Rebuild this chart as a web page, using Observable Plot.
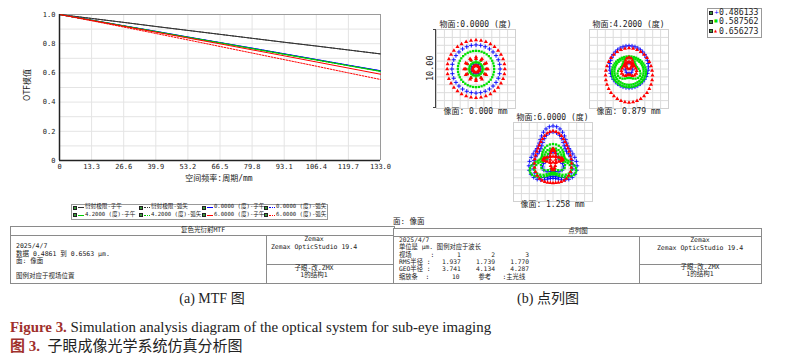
<!DOCTYPE html>
<html><head><meta charset="utf-8">
<script src="https://cdn.jsdelivr.net/npm/d3@7"></script>
<script src="https://cdn.jsdelivr.net/npm/@observablehq/plot@0.6"></script>
<style>
html,body{margin:0;padding:0;background:#fff;}
#root{position:relative;width:792px;height:362px;overflow:hidden;background:#fff;
  font-family:"DejaVu Sans Mono","Noto Sans CJK SC",monospace;color:#222;}
.a{position:absolute;white-space:pre;line-height:1;}
.box{position:absolute;border:1px solid #8a8a8a;background:#fff;box-sizing:border-box;}
.hl{position:absolute;height:0;border-top:1px solid #8a8a8a;}
.vl{position:absolute;width:0;border-left:1px solid #8a8a8a;}
svg{position:absolute;overflow:visible;}
</style></head><body><div id="root"></div>
<script>
// ---------------- MTF data ----------------
const freq = [0, 13.3, 26.6, 39.9, 53.2, 66.5, 79.8, 93.1, 106.4, 119.7, 133.0];
const mtfDiffT = [1.000,0.973,0.946,0.918,0.891,0.864,0.837,0.810,0.784,0.757,0.730];
const mtfDiffS = [1.000,0.973,0.946,0.918,0.891,0.864,0.837,0.810,0.784,0.757,0.730];
const mtf0T  = [1.000,0.962,0.923,0.885,0.846,0.808,0.770,0.731,0.692,0.653,0.615];
const mtf0S  = [1.000,0.961,0.922,0.884,0.845,0.807,0.769,0.730,0.691,0.652,0.614];
const mtf42T = [1.000,0.961,0.922,0.883,0.844,0.806,0.767,0.728,0.689,0.650,0.611];
const mtf42S = [1.000,0.961,0.921,0.882,0.843,0.805,0.766,0.727,0.688,0.649,0.610];
const mtf60T = [1.000,0.960,0.919,0.879,0.839,0.799,0.758,0.717,0.675,0.633,0.591];
const mtf60S = [1.000,0.957,0.914,0.870,0.826,0.781,0.736,0.691,0.646,0.600,0.555];
const mtfNames = ["衍射极限-子午","衍射极限-弧矢","0.0000 (度)-子午","0.0000 (度)-弧矢",
                  "4.2000 (度)-子午","4.2000 (度)-弧矢","6.0000 (度)-子午","6.0000 (度)-弧矢"];
const mtfColors = ["#333333","#333333","#0000ff","#0000ff","#00cc00","#00cc00","#ff0000","#ff0000"];
const mtfDashed = [false,true,false,true,false,true,false,true];
const mtfYTicks = [0,0.2,0.4,0.6,0.8,1.0];
const mtfYGrid = [0.1,0.2,0.3,0.4,0.5,0.6,0.7,0.8,0.9];

// ---------------- Spot diagram data (ray rings) ----------------
// [wavelength index, cx, cy, rx, ry, points, trefoil]  (µm)
const spotWaves = ["0.486133","0.587562","0.656273"];
const spotColors = ["#0000ff","#00e000","#ff0000"];
const spotSymbols = ["plus","square","triangle"];
const spot0Rings = [
  [0,0,0,3.05,3.05,32,0],[0,0,0,0.62,0.62,12,0],
  [1,0,0,2.3,2.3,40,0],[1,0,0,1.2,1.2,12,0],[1,0,0,0.85,0.85,24,0],
  [2,0,0,3.65,3.65,36,0],[2,0,0,1.5,1.5,12,0],[2,0,0,1.3,1.3,12,0],[2,0,0,0.42,0.42,14,0]
];
const spot42Rings = [
  [0,0,0.27,2.45,2.67,40,0],[0,0,0.1,0.5,0.7,10,0],
  [1,0,-0.35,2.15,1.95,44,0],[1,0,-0.3,1.85,1.7,40,0],[1,0,-0.1,1.3,1.3,30,0.22],
  [2,0,-0.8,2.97,3.44,36,0],[2,0,0.1,0.85,1.1,24,0.25],[2,0,0.45,0.35,0.45,10,0]
];
const spot60Rings = [
  [0,0,0.59,2.76,3.31,44,0.2],[0,0,0.45,2.3,2.8,38,0.2],[0,0,-0.2,1.2,1.2,20,0.2],
  [1,0,-0.21,2.49,1.91,52,0.3],[1,0,-0.25,2.0,1.55,42,0.3],[1,0,0.0,1.3,1.2,24,0.3],
  [2,0,0.36,2.3,3.28,40,0.08],[2,0,0.32,1.25,0.35,20,0],[2,0,0.32,0.35,1.35,20,0]
];
const spotPanels = [
  {title:"物面:0.0000 (度)", foot:"像面: 0.000 mm", rings:spot0Rings, left:436, top:29},
  {title:"物面:4.2000 (度)", foot:"像面: 0.879 mm", rings:spot42Rings, left:589, top:29},
  {title:"物面:6.0000 (度)", foot:"像面: 1.258 mm", rings:spot60Rings, left:513, top:122}
];
const spotGrid = [-4,-3,-2,-1,0,1,2,3,4];

// ---------------- Text blocks ----------------
const mtfTableTitle = "复色光衍射MTF";
const mtfTableLines = ["2025/4/7","数据 0.4861 到 0.6563 µm.","面: 像面","","图例对应于视场位置"];
const spotTableTitle = "点列图";
const spotTableLines = ["2025/4/7","单位是 µm. 图例对应于波长",
  "视场     :      1        2        3",
  "RMS半径 :   1.937    1.739    1.770",
  "GEO半径 :   3.741    4.134    4.287",
  "缩放条  :      10     参考   :主光线"];

const root = document.getElementById("root");
function T(x, y, s, size, o = {}) {
  const d = document.createElement("div");
  d.className = "a";
  d.textContent = s;
  d.style.fontSize = size + "px";
  if (o.family) d.style.fontFamily = o.family;
  if (o.color) d.style.color = o.color;
  if (o.center) { d.style.left = (x - 200) + "px"; d.style.width = "400px"; d.style.textAlign = "center"; }
  else d.style.left = x + "px";
  d.style.top = (y - size * 0.55) + "px";
  if (o.rotate) { d.style.transform = "rotate(-90deg)"; }
  if (o.z) d.style.zIndex = o.z;
  root.appendChild(d);
  return d;
}
function el(cls, css) { const d = document.createElement("div"); d.className = cls; Object.assign(d.style, css); root.appendChild(d); return d; }

// ---------------- MTF plot ----------------
const mtfRows = [mtfDiffT,mtfDiffS,mtf0T,mtf0S,mtf42T,mtf42S,mtf60T,mtf60S];
const lineMarks = mtfRows.map((vals, i) =>
  Plot.line(freq.map((f, j) => ({f, v: vals[j]})), {x:"f", y:"v", stroke: mtfColors[i], strokeWidth: 1,
    strokeDasharray: mtfDashed[i] ? "1.6,1.4" : null}));
const mtf = Plot.plot({
  width: 400, height: 195, marginLeft: 59, marginRight: 20, marginTop: 14, marginBottom: 35,
  x: {domain: [0, 133]}, y: {domain: [0, 1]},
  style: {fontFamily: "DejaVu Sans Mono, monospace", fontSize: "7px", color: "#222", background: "transparent"},
  marks: [
    Plot.gridX(freq, {stroke: "#e4e4e4", strokeOpacity: 1}),
    Plot.gridY(mtfYGrid, {stroke: "#e4e4e4", strokeOpacity: 1}),
    Plot.ruleX([133], {stroke: "#9a9a9a"}),
    Plot.ruleY([1], {stroke: "#9a9a9a"}),
    ...lineMarks,
    Plot.ruleX([0], {stroke: "#222", strokeWidth: 1.5}),
    Plot.ruleY([0], {stroke: "#222", strokeWidth: 1.5}),
    Plot.axisX(freq, {tickSize: 0, tickPadding: 4, label: null, tickFormat: d => d === 0 ? "0" : d.toFixed(1)}),
    Plot.axisY(mtfYTicks, {tickSize: 0, tickPadding: 4, label: null, tickFormat: d => d === 0 ? "0" : d.toFixed(1)})
  ]
});
mtf.style.left = "0px"; mtf.style.top = "0px";
root.appendChild(mtf);
T(28, 85, "OTF模值", 8, {center: true, rotate: true, family: "DejaVu Sans,Noto Sans CJK SC"});
T(219, 179, "空间频率:周期/mm", 8, {center: true});

// MTF legend
el("box", {left: "71px", top: "204px", width: "257px", height: "16px", border: "1px solid #999"});
const colX = [73, 139, 202, 264], rowY = [207.5, 215];
mtfNames.forEach((name, i) => {
  const x = colX[i % 4], y = rowY[Math.floor(i / 4)];
  el("a", {left: x + "px", top: (y - 2) + "px", width: "4px", height: "4px", background: "#3c9a3c", border: "1px solid #222", boxSizing: "border-box"});
  el("a", {left: (x + 5) + "px", top: (y - 0.5) + "px", width: "6px", height: "0px",
    borderTop: "1px " + (mtfDashed[i] ? "dotted " : "solid ") + mtfColors[i]});
  T(x + 12, y, name, 5.6);
});

// MTF info table
el("box", {left: "10px", top: "226px", width: "385px", height: "58px"});
el("hl", {left: "10px", top: "235px", width: "385px"});
el("vl", {left: "266px", top: "235px", height: "48px"});
el("hl", {left: "266px", top: "264px", width: "129px"});
T(203, 230.5, mtfTableTitle, 6.5, {center: true});
[246.5, 254.5, 261.5, 269, 276.5].forEach((y, i) => { if (mtfTableLines[i]) T(16, y, mtfTableLines[i], 6.5); });
T(314, 239.5, "Zemax", 6.5, {center: true});
T(314, 247.5, "Zemax OpticStudio 19.4", 6.5, {center: true});
T(314, 268.5, "子眼-改.ZMX", 6.5, {center: true});
T(314, 275.5, "1的结构1", 6.5, {center: true});

// ---------------- Spot diagrams ----------------
function ringPoints(rings) {
  const pts = [];
  for (const [w, cx, cy, rx, ry, n, e] of rings) {
    for (let k = 0; k < n; k++) {
      const t = 2 * Math.PI * k / n;
      const r = 1 + e * Math.cos(3 * t);
      pts.push({w, x: cx + rx * r * Math.sin(t), y: cy + ry * r * Math.cos(t)});
    }
  }
  return pts;
}
spotPanels.forEach(panel => {
  const pts = ringPoints(panel.rings);
  const dots = [0, 1, 2].map(w => {
    const data = pts.filter(d => d.w === w);
    return w === 0
      ? Plot.dot(data, {x: "x", y: "y", symbol: spotSymbols[w], stroke: spotColors[w], r: 1.5, strokeWidth: 0.9})
      : Plot.dot(data, {x: "x", y: "y", symbol: spotSymbols[w], fill: spotColors[w], r: w === 1 ? 1.3 : 1.5});
  });
  const p = Plot.plot({
    width: 79, height: 79, margin: 0,
    x: {domain: [-5, 5], axis: null}, y: {domain: [-5, 5], axis: null},
    style: {background: "transparent"},
    marks: [
      Plot.gridX(spotGrid, {stroke: "#dcdcdc", strokeOpacity: 1}),
      Plot.gridY(spotGrid, {stroke: "#dcdcdc", strokeOpacity: 1}),
      Plot.frame({stroke: "#d0d0d0"}),
      ...dots
    ]
  });
  p.style.left = panel.left + "px"; p.style.top = panel.top + "px";
  root.appendChild(p);
  T(panel.left + 39.5, panel.top - 3.5, panel.title, 8, {center: true});
  T(panel.left + 39.5, panel.top + 83.5, panel.foot, 8, {center: true});
});
// scale bar
el("a", {left: "435px", top: "29px", width: "0px", height: "79px", borderLeft: "1.5px solid #444"});
el("a", {left: "433px", top: "29px", width: "3px", height: "0px", borderTop: "1.5px solid #444"});
el("a", {left: "433px", top: "107px", width: "3px", height: "0px", borderTop: "1.5px solid #444"});
T(430, 69, "10.00", 8.5, {center: true, rotate: true});

// spot legend
el("box", {left: "707px", top: "8px", width: "55px", height: "30px", border: "1px solid #999"});
spotWaves.forEach((w, i) => {
  const y = 12.7 + i * 9.3;
  el("a", {left: "709px", top: (y - 2) + "px", width: "4px", height: "4px", background: "#3c9a3c", border: "1px solid #222", boxSizing: "border-box"});
  T(714, y - 0.5, i === 0 ? "+" : i === 1 ? "■" : "▲", i === 0 ? 6 : 4, {color: spotColors[i], family: "DejaVu Sans"});
  T(719, y, w, 8.2);
});

// spot table
T(393, 222.5, "面: 像面", 7.5);
el("box", {left: "393px", top: "228px", width: "369px", height: "56px", zIndex: 1});
el("hl", {left: "393px", top: "236px", width: "369px", zIndex: 2});
el("vl", {left: "639px", top: "236px", height: "47px", zIndex: 2});
el("hl", {left: "639px", top: "264px", width: "123px", zIndex: 2});
T(578, 232, spotTableTitle, 6.5, {center: true, z: 3});
spotTableLines.forEach((s, i) => T(399, 240.5 + i * 7.3, s, 6.3, {z: 3}));
T(700, 241, "Zemax", 6.5, {center: true, z: 3});
T(700, 248.5, "Zemax OpticStudio 19.4", 6.5, {center: true, z: 3});
T(700, 268, "子眼-改.ZMX", 6.5, {center: true, z: 3});
T(700, 274.5, "1的结构1", 6.5, {center: true, z: 3});

// ---------------- Captions ----------------
T(212, 300, "(a) MTF 图", 14, {center: true, family: "Liberation Serif,Noto Sans CJK SC"});
T(548, 300, "(b) 点列图", 14, {center: true, family: "Liberation Serif,Noto Sans CJK SC"});
const cap1 = T(10, 328, "", 14.9, {family: "Liberation Serif"});
cap1.innerHTML = '<b style="color:#a0302c">Figure 3.</b> Simulation analysis diagram of the optical system for sub-eye imaging';
const cap2 = T(10, 347, "", 15, {family: "Liberation Serif,Noto Sans CJK SC"});
cap2.innerHTML = '<b style="color:#a0302c">图 3.</b>&nbsp; 子眼成像光学系统仿真分析图';
</script></body></html>
